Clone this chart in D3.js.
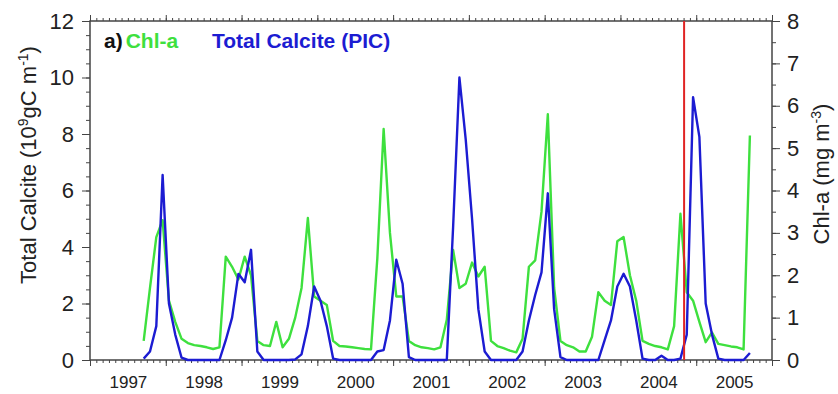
<!DOCTYPE html>
<html>
<head>
<meta charset="utf-8">
<script src="https://cdn.jsdelivr.net/npm/d3@7"></script>
<style>
  body { margin: 0; background: #fff; }
  svg text { font-family: "Liberation Sans", Arial, sans-serif; }
</style>
</head>
<body>
<div id="chart"></div>
<script>
// monthly values, Sep 1997 .. Sep 2005
var startYear = 1997 + 8 / 12
var chl = [0.45, 1.7, 2.9, 3.3, 1.4, 0.9, 0.5, 0.4, 0.35, 0.33, 0.3, 0.26,
  0.3, 2.44, 2.2, 1.9, 2.44, 2.0, 0.45, 0.35, 0.33, 0.9, 0.3, 0.5,
  1.0, 1.7, 3.35, 1.5, 1.4, 1.3, 0.45, 0.33, 0.32, 0.3, 0.28, 0.26,
  0.25, 2.4, 5.45, 3.0, 1.5, 1.5, 0.45, 0.35, 0.3, 0.28, 0.25, 0.3,
  0.95, 2.6, 1.7, 1.8, 2.3, 1.97, 2.2, 0.45, 0.33, 0.28, 0.22, 0.18,
  0.5, 2.2, 2.35, 3.5, 5.8, 1.7, 0.45, 0.35, 0.3, 0.2, 0.2, 0.55,
  1.6, 1.4, 1.3, 2.8, 2.9, 2.0, 1.4, 0.45, 0.38, 0.33, 0.3, 0.25,
  0.8, 3.45, 1.6, 1.4, 0.9, 0.42, 0.65, 0.38, 0.35, 0.32, 0.3, 0.25,
  5.3]
var pic = [0.05, 0.3, 1.2, 6.55, 2.0, 0.9, 0.08, 0, 0, 0, 0, 0,
  0, 0.7, 1.5, 3.05, 2.75, 3.9, 0.3, 0, 0, 0, 0, 0,
  0.02, 0.2, 1.2, 2.6, 2.1, 1.2, 0.05, 0, 0, 0, 0, 0,
  0, 0.3, 0.35, 1.4, 3.55, 2.7, 0.1, 0, 0, 0, 0, 0,
  0, 4.7, 10.0, 7.8, 5.0, 1.8, 0.3, 0, 0, 0, 0, 0,
  0.3, 1.4, 2.3, 3.1, 5.9, 1.8, 0.1, 0, 0, 0, 0, 0,
  0, 0.7, 1.4, 2.6, 3.05, 2.6, 1.4, 0.05, 0, 0, 0.15, 0,
  0, 0.05, 0.9, 9.3, 7.9, 2.0, 0.9, 0.05, 0, 0, 0, 0,
  0.25]
var years = [1997, 1998, 1999, 2000, 2001, 2002, 2003, 2004, 2005]
var redLineYear = 2004.84

var width = 838, height = 394
var margin = {left: 90, right: 66, top: 21, bottom: 34}

var svg = d3.select("#chart").append("svg")
  .attr("width", width).attr("height", height)

var x = d3.scaleLinear().domain([1997, 2006]).range([margin.left, width - margin.right])
var yL = d3.scaleLinear().domain([0, 12]).range([height - margin.bottom, margin.top])
var yR = d3.scaleLinear().domain([0, 8]).range([height - margin.bottom, margin.top])

var months = d3.range(0, 9 * 12 + 1).map(function(m){ return 1997 + m / 12 })
var yearStarts = d3.range(1997, 2007)
var axisColor = "#444"

function styleAxis(g) {
  g.select(".domain").remove()
  g.selectAll("line").attr("stroke", axisColor)
  g.selectAll("text").attr("fill", "#222")
}

// bottom: minor monthly ticks, year ticks, labels mid-year
svg.append("g").attr("transform", "translate(0," + yL(0) + ")")
  .call(d3.axisBottom(x).tickValues(months).tickSize(3).tickFormat(""))
  .call(styleAxis)
svg.append("g").attr("transform", "translate(0," + yL(0) + ")")
  .call(d3.axisBottom(x).tickValues(yearStarts).tickSize(6).tickFormat(""))
  .call(styleAxis)
svg.append("g").attr("transform", "translate(0," + yL(0) + ")")
  .call(d3.axisBottom(x).tickValues(years.map(function(d){ return d + 0.5 }))
    .tickSize(0).tickPadding(16).tickFormat(function(d){ return Math.floor(d) }))
  .call(styleAxis)
  .selectAll("text").style("font-size", "17px")

// top border ticks
svg.append("g").attr("transform", "translate(0," + yL(12) + ")")
  .call(d3.axisTop(x).tickValues(months).tickSize(3).tickFormat(""))
  .call(styleAxis)
svg.append("g").attr("transform", "translate(0," + yL(12) + ")")
  .call(d3.axisTop(x).tickValues(yearStarts).tickSize(6).tickFormat(""))
  .call(styleAxis)

// left axis
svg.append("g").attr("transform", "translate(" + x(1997) + ",0)")
  .call(d3.axisLeft(yL).tickValues(d3.range(0, 12.01, 0.5)).tickSize(4).tickFormat(""))
  .call(styleAxis)
svg.append("g").attr("transform", "translate(" + x(1997) + ",0)")
  .call(d3.axisLeft(yL).tickValues(d3.range(0, 13, 2)).tickSize(8).tickPadding(8))
  .call(styleAxis)
  .selectAll("text").style("font-size", "22px")

// right axis
svg.append("g").attr("transform", "translate(" + x(2006) + ",0)")
  .call(d3.axisRight(yR).tickValues(d3.range(0, 8.01, 0.5)).tickSize(4).tickFormat(""))
  .call(styleAxis)
svg.append("g").attr("transform", "translate(" + x(2006) + ",0)")
  .call(d3.axisRight(yR).tickValues(d3.range(0, 9, 1)).tickSize(8).tickPadding(7))
  .call(styleAxis)
  .selectAll("text").style("font-size", "22px")

// frame
svg.append("rect")
  .attr("x", x(1997)).attr("y", yL(12))
  .attr("width", x(2006) - x(1997)).attr("height", yL(0) - yL(12))
  .attr("fill", "none").attr("stroke", axisColor).attr("stroke-width", 1.5)

// lines
var tOf = function(i){ return startYear + (i + 0.5) / 12 }
var chlLine = d3.line().x(function(d, i){ return x(tOf(i)) }).y(function(d){ return yR(d) })
var picLine = d3.line().x(function(d, i){ return x(tOf(i)) }).y(function(d){ return yL(d) })

svg.append("path").datum(chl)
  .attr("d", chlLine).attr("fill", "none")
  .attr("stroke", "#3ee03e").attr("stroke-width", 2.4).attr("stroke-linejoin", "round")
svg.append("path").datum(pic)
  .attr("d", picLine).attr("fill", "none")
  .attr("stroke", "#1c1cd2").attr("stroke-width", 2.4).attr("stroke-linejoin", "round")

svg.append("line")
  .attr("x1", x(redLineYear)).attr("x2", x(redLineYear))
  .attr("y1", yL(12)).attr("y2", yL(0))
  .attr("stroke", "#e02424").attr("stroke-width", 2)

// legend
var leg = svg.append("text").attr("x", 104).attr("y", 48)
  .style("font-size", "21px").style("font-weight", "bold")
leg.append("tspan").attr("fill", "#111").text("a)")
leg.append("tspan").attr("fill", "#3ee03e").attr("dx", 3).text("Chl-a")
leg.append("tspan").attr("fill", "#1c1cd2").attr("x", 212).text("Total Calcite (PIC)")

// axis titles
var lt = svg.append("text")
  .attr("transform", "translate(36,165) rotate(-90)")
  .attr("text-anchor", "middle").style("font-size", "22px").attr("fill", "#222")
lt.append("tspan").text("Total Calcite (10")
lt.append("tspan").attr("dy", -8).style("font-size", "14px").text("9")
lt.append("tspan").attr("dy", 8).text("gC m")
lt.append("tspan").attr("dy", -8).style("font-size", "14px").text("-1")
lt.append("tspan").attr("dy", 8).text(")")

var rt = svg.append("text")
  .attr("transform", "translate(829,174) rotate(-90)")
  .attr("text-anchor", "middle").style("font-size", "22px").attr("fill", "#222")
rt.append("tspan").text("Chl-a (mg m")
rt.append("tspan").attr("dy", -8).style("font-size", "14px").text("-3")
rt.append("tspan").attr("dy", 8).text(")")
</script>
</body>
</html>
